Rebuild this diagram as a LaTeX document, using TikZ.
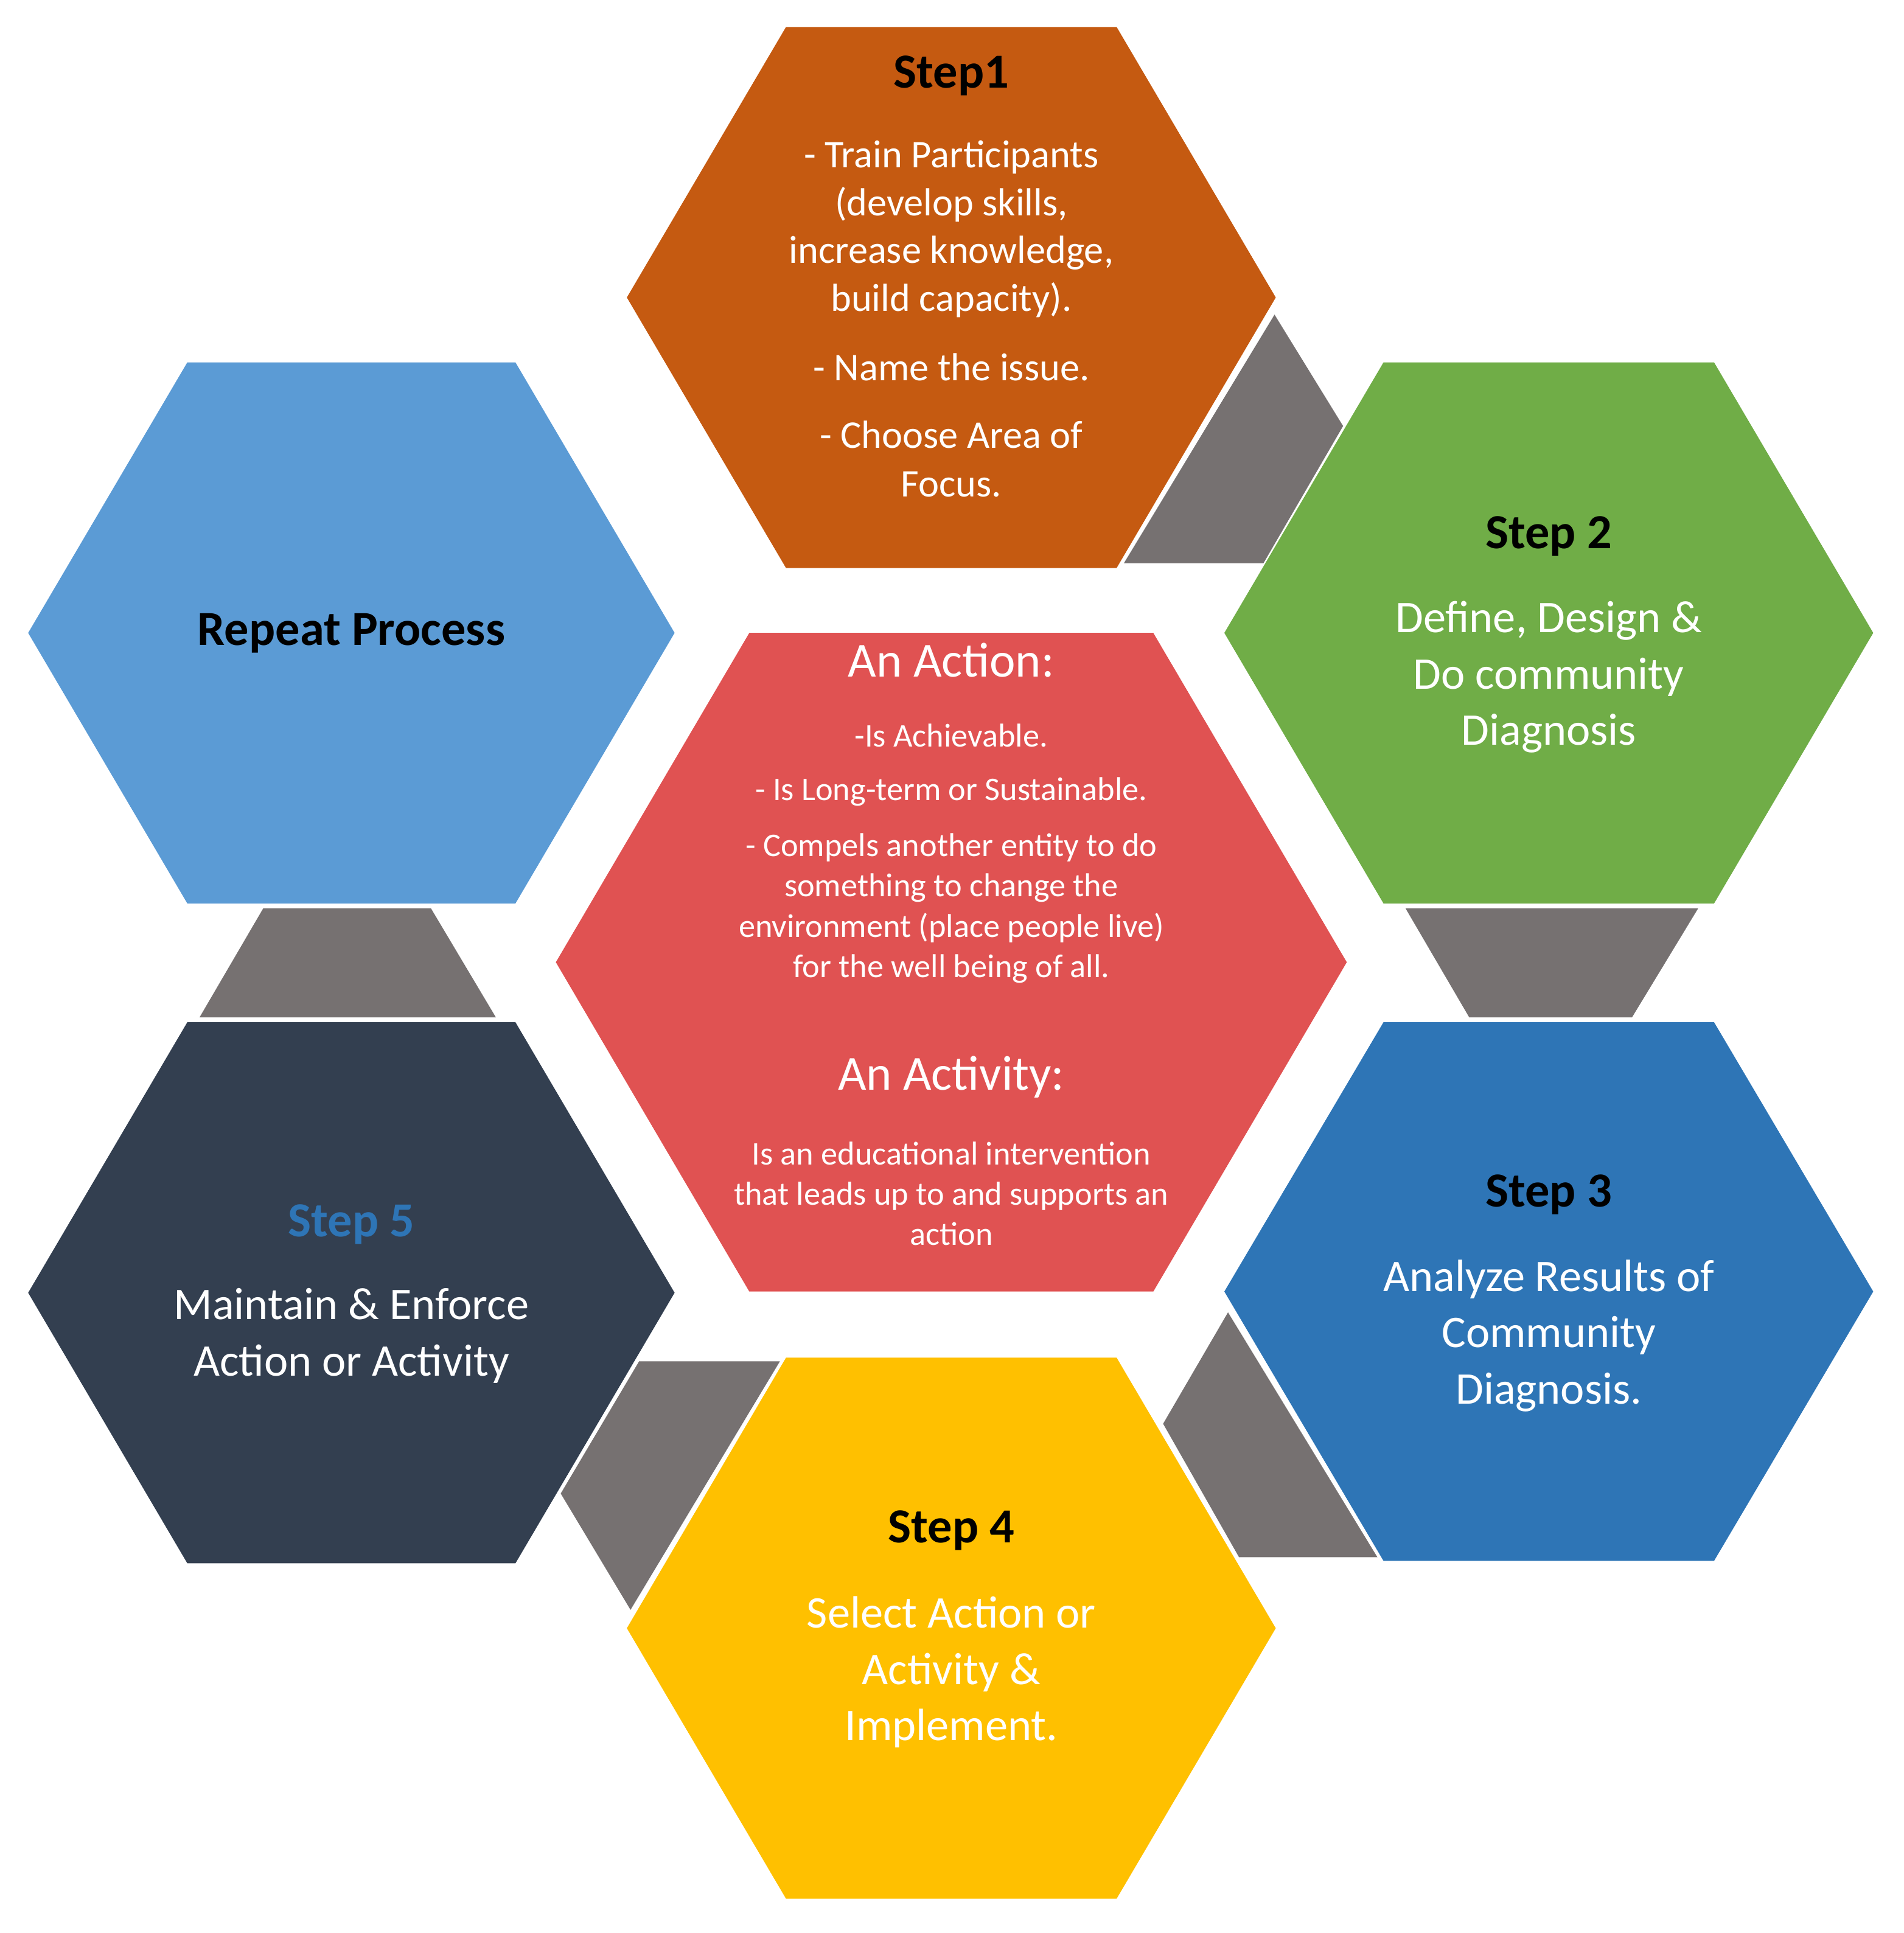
\documentclass[tikz,border=0pt]{standalone}
\usepackage{fontspec}
\setmainfont{Carlito}
\begin{document}
\begin{tikzpicture}[x=1pt,y=-1pt,
  txt/.style={text=white,align=center,inner sep=0pt},
  ttl/.style={text=black,font=\bfseries\fontsize{40}{44}\selectfont,inner sep=0pt},
  con/.style={fill=gray7}]
\definecolor{c1}{HTML}{C55A11}\definecolor{c2}{HTML}{70AD47}\definecolor{c3}{HTML}{2E75B6}
\definecolor{c4}{HTML}{FFC000}\definecolor{c5}{HTML}{333F50}\definecolor{cr}{HTML}{5B9BD5}
\definecolor{cc}{HTML}{E05252}\definecolor{gray7}{HTML}{767171}
\useasboundingbox (0,0) rectangle (1555,1579);
\newcommand{\hexa}[7]{% name cx cy r hw hh color
  \fill[#7] (#2-#4,#3) -- (#2-#5,#3-#6) -- (#2+#5,#3-#6) -- (#2+#4,#3) -- (#2+#5,#3+#6) -- (#2-#5,#3+#6) -- cycle;
  \coordinate (#1) at (#2,#3);}
% connectors
\fill[con] (1041,257) -- (1097,348) -- (1032,460) -- (918,460) -- cycle;
\fill[con] (215,742) -- (352,742) -- (405,831) -- (163,831) -- cycle;
\fill[con] (1148,742) -- (1387,742) -- (1333,831) -- (1200,831) -- cycle;
\fill[con] (1003,1072) -- (1125,1272) -- (1012,1272) -- (950,1163) -- cycle;
\fill[con] (522,1112) -- (637,1112) -- (515,1315) -- (458,1220) -- cycle;
% hexagons
\hexa{h1}{777}{243}{265}{135}{221}{c1}
\hexa{hr}{287}{517}{264}{134}{221}{cr}
\hexa{h2}{1265}{517}{265}{135}{221}{c2}
\hexa{hc}{777}{786}{323}{165}{269}{cc}
\hexa{h5}{287}{1056}{264}{134}{221}{c5}
\hexa{h3}{1265}{1055}{265}{135}{220}{c3}
\hexa{h4}{777}{1330}{265}{135}{221}{c4}
% texts
\node[ttl] (t1) at (777,62) {Step1};
\node[txt,font=\fontsize{32}{39}\selectfont] (b1) at (777,187) {- Train Participants\\(develop skills,\\increase knowledge,\\build capacity).};
\node[txt,font=\fontsize{32}{39}\selectfont] (b1b) at (777,300) {- Name the issue.};
\node[txt,font=\fontsize{32}{40}\selectfont] (b1c) at (777,375) {- Choose Area of\\Focus.};
\node[ttl] (tr) at (287,517) {Repeat Process};
\node[ttl] (t2) at (1265,438) {Step 2};
\node[txt,font=\fontsize{37}{46}\selectfont] (b2) at (1265,553) {Define, Design \&\\Do community\\Diagnosis};
\node[txt,font=\fontsize{40}{44}\selectfont] (ca) at (777,539) {An Action:};
\node[txt,font=\fontsize{27}{33}\selectfont] (c1t) at (777,601) {-Is Achievable.};
\node[txt,font=\fontsize{27}{33}\selectfont] (c2t) at (777,647) {- Is Long-term or Sustainable.};
\node[txt,font=\fontsize{27}{33}\selectfont] (c3t) at (777,742) {- Compels another entity to do\\something to change the\\environment (place people live)\\for the well being of all.};
\node[txt,font=\fontsize{40}{44}\selectfont] (cb) at (777,880) {An Activity:};
\node[txt,font=\fontsize{27}{33}\selectfont] (c4t) at (777,975) {Is an educational intervention\\that leads up to and supports an\\action};
\node[ttl] (t3) at (1265,976) {Step 3};
\node[txt,font=\fontsize{37}{46}\selectfont] (b3) at (1265,1091) {Analyze Results of\\Community\\Diagnosis.};
\node[ttl] (t4) at (777,1250) {Step 4};
\node[txt,font=\fontsize{37}{46}\selectfont] (b4) at (777,1366) {Select Action or\\Activity \&\\Implement.};
\node[ttl,text=c3] (t5) at (287,1000) {Step 5};
\node[txt,font=\fontsize{37}{46}\selectfont] (b5) at (287,1091) {Maintain \& Enforce\\Action or Activity};
\end{tikzpicture}
\end{document}
